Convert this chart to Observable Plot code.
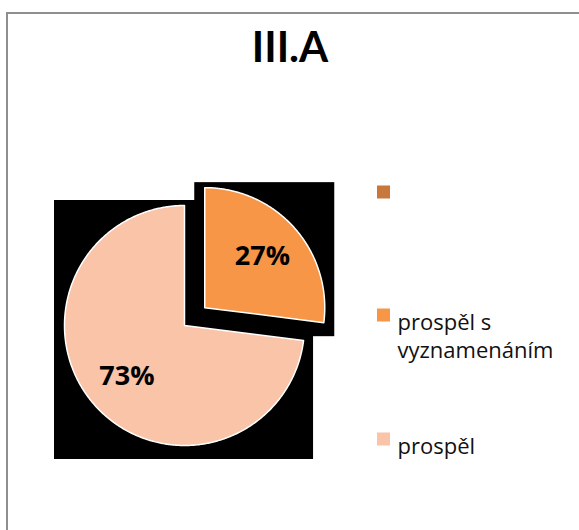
<!DOCTYPE html>
<html><head><meta charset="utf-8">
<script src="https://cdn.jsdelivr.net/npm/d3@7"></script>
<script src="https://cdn.jsdelivr.net/npm/@observablehq/plot@0.6"></script>
<style>
body{margin:0;background:#fff;}
#chart{position:absolute;left:0;top:0;}
#frame{position:absolute;left:6px;top:12px;width:620px;height:620px;border:2px solid #8f8f8f;box-sizing:border-box;pointer-events:none;}
</style></head><body>
<div id="chart"></div>
<div id="frame"></div>
<script>
// ---- data ----
const title = "III.A";
const categories = ["", "prospěl s vyznamenáním", "prospěl"];
const values = [0, 27, 73];
const legendLabels = ["", "prospěl s\nvyznamenáním", "prospěl"];
const colors = ["#C8783A", "#F79646", "#F9C4A8"];
const explodedCategory = "prospěl s vyznamenáním";

// ---- layout ----
const W = 579, H = 530;
const cx = 184, cy = 325, r = 120, explode = 27;
const pad = {l: 10, t: 5, r: 10, b: 14};
const legendX = 377, legendSq = 13, legendTextX = 397;
const legendY = [192, 315, 439];

const total = d3.sum(values);
const arcs = d3.pie().sort(null).value(d => d.value)(
  categories.map((c, i) => ({category: c, value: values[i], color: colors[i]}))
).filter(a => a.data.value > 0);

const slices = arcs.map(a => {
  const mid = (a.startAngle + a.endAngle) / 2;
  const off = a.data.category === explodedCategory ? explode : 0;
  const ox = cx + off * Math.sin(mid), oy = cy - off * Math.cos(mid);
  const pts = [{x: ox, y: oy}];
  const n = Math.max(2, Math.ceil((a.endAngle - a.startAngle) / (Math.PI / 360)));
  for (let k = 0; k <= n; k++) {
    const t = a.startAngle + (a.endAngle - a.startAngle) * k / n;
    pts.push({x: ox + r * Math.sin(t), y: oy - r * Math.cos(t)});
  }
  const label = {x: ox + 0.64 * r * Math.sin(mid), y: oy - 0.64 * r * Math.cos(mid),
                 text: Math.round(a.data.value / total * 100) + "%"};
  const box = {x1: d3.min(pts, p => p.x) - pad.l, x2: d3.max(pts, p => p.x) + pad.r,
               y1: d3.min(pts, p => p.y) - pad.t, y2: d3.max(pts, p => p.y) + pad.b};
  return {pts, color: a.data.color, label, box};
});

const legend = categories.map((c, i) => ({label: legendLabels[i], color: colors[i], y: legendY[i]}));

const chart = Plot.plot({
  width: W, height: H, margin: 0,
  style: {background: "transparent"},
  x: {domain: [0, W], range: [0, W], axis: null},
  y: {domain: [0, H], range: [0, H], axis: null},
  marks: [
    Plot.rect(slices.map(s => s.box), {x1: "x1", x2: "x2", y1: "y1", y2: "y2", fill: "black"}),
    ...slices.map(s => Plot.line(s.pts, {x: "x", y: "y", fill: s.color, stroke: "white", strokeWidth: 1.5, curve: "linear-closed"})),
    Plot.text(slices.map(s => s.label), {x: "x", y: "y", text: "text", fontSize: 27, fontWeight: "bold", fill: "black", fontFamily: "Open Sans"}),
    Plot.text([title], {x: () => W / 2, y: () => 48, text: d => d, fontSize: 42, fontWeight: "bold", fontFamily: "Lato", fill: "black"}),
    Plot.rect(legend, {x1: () => legendX, x2: () => legendX + legendSq, y1: d => d.y - legendSq / 2, y2: d => d.y + legendSq / 2, fill: d => d.color}),
    Plot.text(legend, {x: () => legendTextX, y: d => d.y - 5, text: "label", textAnchor: "start", lineAnchor: "top", lineHeight: 1.27, fontSize: 22, fontFamily: "Open Sans", fill: "#111"})
  ],
  color: {type: "identity"}
});
document.getElementById("chart").appendChild(chart);
</script>
</body></html>
